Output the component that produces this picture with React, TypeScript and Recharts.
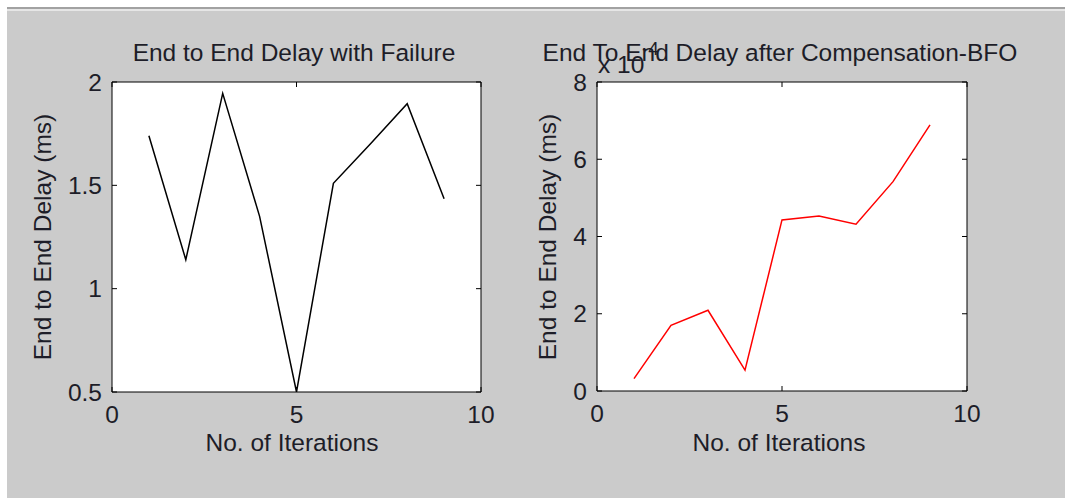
import { LineChart, Line, XAxis, YAxis, CartesianGrid } from "recharts";

// iteration numbers on the x axis
const iterations = [1, 2, 3, 4, 5, 6, 7, 8, 9];

// end-to-end delay (ms) with a node failure
const delayWithFailure = [1.74, 1.14, 1.945, 1.35, 0.5, 1.51, 1.7, 1.895, 1.435];

// end-to-end delay after BFO compensation, in units of 1e-4 ms
const delayAfterBfo = [0.32, 1.7, 2.09, 0.54, 4.43, 4.53, 4.32, 5.42, 6.89];

const xTicks = [0, 5, 10];
const failureTicks = [0.5, 1, 1.5, 2];
const bfoTicks = [0, 2, 4, 6, 8];

const FONT = '"Liberation Sans", Arial, Helvetica, sans-serif';
const INK = "#1d1d28";
const FS = 24.5;

// axis band sizes; margins below are shrunk by these so the plot box lands right
const AX_W = 40;
const AX_H = 30;

type PanelProps = {
  values: number[];
  color: string;
  yDomain: [number, number];
  yTicks: number[];
  width: number;
  margin: { top: number; right: number; bottom: number; left: number };
};

function Panel({ values, color, yDomain, yTicks, width, margin }: PanelProps) {
  const data = iterations.map((x, i) => ({ x, y: values[i] }));
  const hidden = () => <g />;
  return (
    <LineChart width={width} height={498} data={data} margin={margin}>
      <CartesianGrid horizontal={false} vertical={false} fill="#ffffff" />
      <XAxis
        xAxisId="b"
        dataKey="x"
        type="number"
        domain={[0, 10]}
        ticks={xTicks}
        allowDataOverflow
        height={AX_H}
        tickSize={-5}
        tickMargin={19}
        axisLine={{ stroke: "#000" }}
        tickLine={{ stroke: "#000" }}
        tick={{ fontSize: FS, fill: INK, fontFamily: FONT }}
      />
      <XAxis
        xAxisId="t"
        orientation="top"
        dataKey="x"
        type="number"
        domain={[0, 10]}
        ticks={xTicks}
        allowDataOverflow
        height={AX_H}
        tickSize={-5}
        axisLine={{ stroke: "#000" }}
        tickLine={{ stroke: "#000" }}
        tick={hidden}
      />
      <YAxis
        yAxisId="l"
        type="number"
        domain={yDomain}
        ticks={yTicks}
        allowDataOverflow
        width={AX_W}
        tickSize={-5}
        tickMargin={15}
        axisLine={{ stroke: "#000" }}
        tickLine={{ stroke: "#000" }}
        tick={{ fontSize: FS, fill: INK, fontFamily: FONT }}
      />
      <YAxis
        yAxisId="r"
        orientation="right"
        type="number"
        domain={yDomain}
        ticks={yTicks}
        allowDataOverflow
        width={AX_W}
        tickSize={-5}
        axisLine={{ stroke: "#000" }}
        tickLine={{ stroke: "#000" }}
        tick={hidden}
      />
      <Line
        xAxisId="b"
        yAxisId="l"
        dataKey="y"
        stroke={color}
        strokeWidth={1.5}
        dot={false}
        isAnimationActive={false}
      />
    </LineChart>
  );
}

export default function App() {
  const txt = { fontFamily: FONT, fontSize: FS, fill: INK } as const;
  return (
    <div
      style={{
        position: "absolute",
        left: 0,
        top: 0,
        width: 1065,
        height: 498,
        background: "#ffffff",
        overflow: "hidden",
      }}
    >
      {/* grey figure window */}
      <div
        style={{
          position: "absolute",
          left: 7,
          top: 7,
          right: 0,
          bottom: 0,
          background: "#cbcbcb",
          borderTop: "2px solid #a2a2a2",
          boxShadow: "inset 0 2px 0 #e6e6e6",
        }}
      />
      <div style={{ position: "absolute", left: 0, top: 0 }}>
        <Panel
          values={delayWithFailure}
          color="#000000"
          yDomain={[0.5, 2]}
          yTicks={failureTicks}
          width={530}
          margin={{ top: 82 - AX_H, right: 49 - AX_W, bottom: 106 - AX_H, left: 112 - AX_W }}
        />
      </div>
      <div style={{ position: "absolute", left: 530, top: 0 }}>
        <Panel
          values={delayAfterBfo}
          color="#ff0000"
          yDomain={[0, 8]}
          yTicks={bfoTicks}
          width={535}
          margin={{ top: 82 - AX_H, right: 98 - AX_W, bottom: 107 - AX_H, left: 67 - AX_W }}
        />
      </div>
      <svg
        width={1065}
        height={498}
        style={{ position: "absolute", left: 0, top: 0, pointerEvents: "none" }}
      >
        <text x={294} y={61} textAnchor="middle" {...txt}>
          End to End Delay with Failure
        </text>
        <text x={780} y={61} textAnchor="middle" {...txt}>
          End To End Delay after Compensation-BFO
        </text>
        <text x={598} y={73} {...txt}>
          x 10
        </text>
        <text x={642} y={55} {...txt} fontSize={19}>
          -4
        </text>
        <text x={292} y={451} textAnchor="middle" {...txt}>
          No. of Iterations
        </text>
        <text x={779} y={451} textAnchor="middle" {...txt}>
          No. of Iterations
        </text>
        <text
          x={42}
          y={237}
          dy="0.36em"
          textAnchor="middle"
          transform="rotate(-90 42 237)"
          {...txt}
        >
          End to End Delay (ms)
        </text>
        <text
          x={547}
          y={237}
          dy="0.36em"
          textAnchor="middle"
          transform="rotate(-90 547 237)"
          {...txt}
        >
          End to End Delay (ms)
        </text>
      </svg>
    </div>
  );
}
